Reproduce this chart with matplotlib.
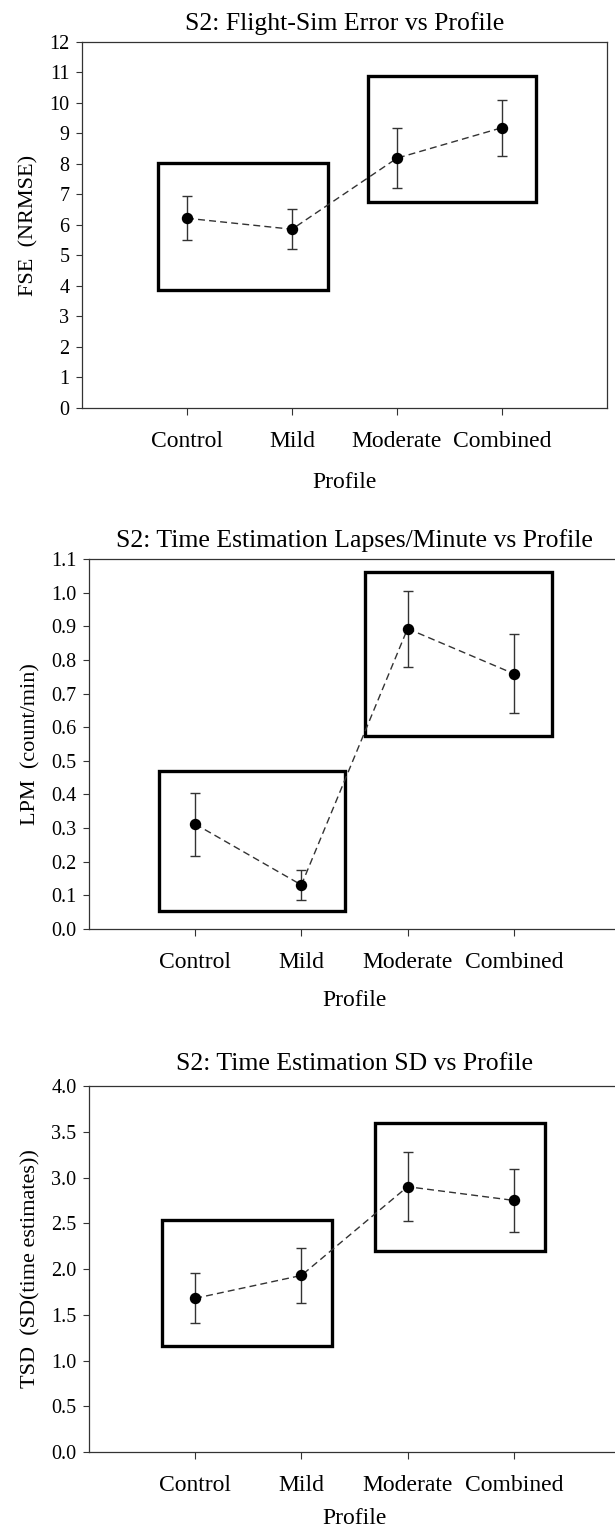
import matplotlib
matplotlib.use('Agg')
import matplotlib.pyplot as plt
from matplotlib.patches import Rectangle

plt.rcParams['font.family'] = ['Liberation Serif', 'DejaVu Serif']

profiles = ['Control', 'Mild', 'Moderate', 'Combined']

# panel 1: flight-sim error
fse_mean = [6.22, 5.86, 8.19, 9.19]
fse_lo = [5.51, 5.20, 7.22, 8.27]
fse_hi = [6.95, 6.53, 9.17, 10.11]
fse_boxes = [(0.72, 3.87, 2.34, 8.04), (2.72, 6.75, 4.32, 10.9)]

# panel 2: lapses per minute
lpm_mean = [0.312, 0.131, 0.893, 0.759]
lpm_lo = [0.218, 0.087, 0.780, 0.643]
lpm_hi = [0.404, 0.174, 1.006, 0.876]
lpm_boxes = [(0.66, 0.055, 2.41, 0.471), (2.60, 0.574, 4.36, 1.062)]

# panel 3: time estimation SD
tsd_mean = [1.68, 1.93, 2.90, 2.75]
tsd_lo = [1.41, 1.63, 2.52, 2.41]
tsd_hi = [1.96, 2.23, 3.28, 3.09]
tsd_boxes = [(0.69, 1.16, 2.29, 2.54), (2.69, 2.20, 4.29, 3.60)]

panels = [
    dict(title='S2: Flight-Sim Error vs Profile', ylabel='FSE  (NRMSE)',
         mean=fse_mean, lo=fse_lo, hi=fse_hi, boxes=fse_boxes,
         ylim=(0, 12), yticks=range(0, 13), fmt='{:.0f}',
         rect=[0.1333, 0.7337, 0.8537, 0.2389], tpad=8.5, xpad=14.5),
    dict(title='S2: Time Estimation Lapses/Minute vs Profile', ylabel='LPM  (count/min)',
         mean=lpm_mean, lo=lpm_lo, hi=lpm_hi, boxes=lpm_boxes,
         ylim=(0, 1.1), yticks=[i / 10 for i in range(12)], fmt='{:.1f}',
         rect=[0.1447, 0.3936, 0.8634, 0.2415], tpad=8.5, xpad=12),
    dict(title='S2: Time Estimation SD vs Profile', ylabel='TSD  (SD(time estimates))',
         mean=tsd_mean, lo=tsd_lo, hi=tsd_hi, boxes=tsd_boxes,
         ylim=(0, 4.0), yticks=[i / 2 for i in range(9)], fmt='{:.1f}',
         rect=[0.1447, 0.0522, 0.8634, 0.2389], tpad=11.5, xpad=9),
]

fig = plt.figure(figsize=(6.15, 15.32), dpi=100)
x = [1, 2, 3, 4]

for p in panels:
    ax = fig.add_axes(p['rect'])
    yerr = [[m - l for m, l in zip(p['mean'], p['lo'])],
            [h - m for m, h in zip(p['mean'], p['hi'])]]
    ax.plot(x, p['mean'], ls=(0, (5, 3)), color='#333333', lw=1.0, zorder=2)
    ax.errorbar(x, p['mean'], yerr=yerr, fmt='none', ecolor='#333333',
                elinewidth=1.0, capsize=3.6, capthick=1.0, zorder=3)
    ax.plot(x, p['mean'], 'o', color='black', ms=7.2, zorder=4)
    for x0, y0, x1, y1 in p['boxes']:
        ax.add_patch(Rectangle((x0, y0), x1 - x0, y1 - y0, fill=False,
                               lw=2.4, ec='black', zorder=1))
    ax.set_xlim(0, 5)
    ax.set_ylim(*p['ylim'])
    ax.set_xticks(x)
    ax.set_xticklabels(profiles, fontsize=17)
    ax.set_yticks(list(p['yticks']))
    ax.set_yticklabels([p['fmt'].format(v) for v in p['yticks']], fontsize=14.5)
    ax.tick_params(axis='y', direction='out', length=4, width=0.8, color='#333333', pad=5)
    ax.tick_params(axis='x', direction='out', length=5, width=0.8, color='#333333', pad=11.5)
    for s in ax.spines.values():
        s.set_linewidth(0.9)
        s.set_color('#333333')
    ax.set_title(p['title'], fontsize=18.5, pad=p['tpad'])
    ax.set_ylabel(p['ylabel'], fontsize=16, labelpad=8)
    ax.set_xlabel('Profile', fontsize=17, labelpad=p['xpad'])

fig.savefig('out.png', dpi=100)
